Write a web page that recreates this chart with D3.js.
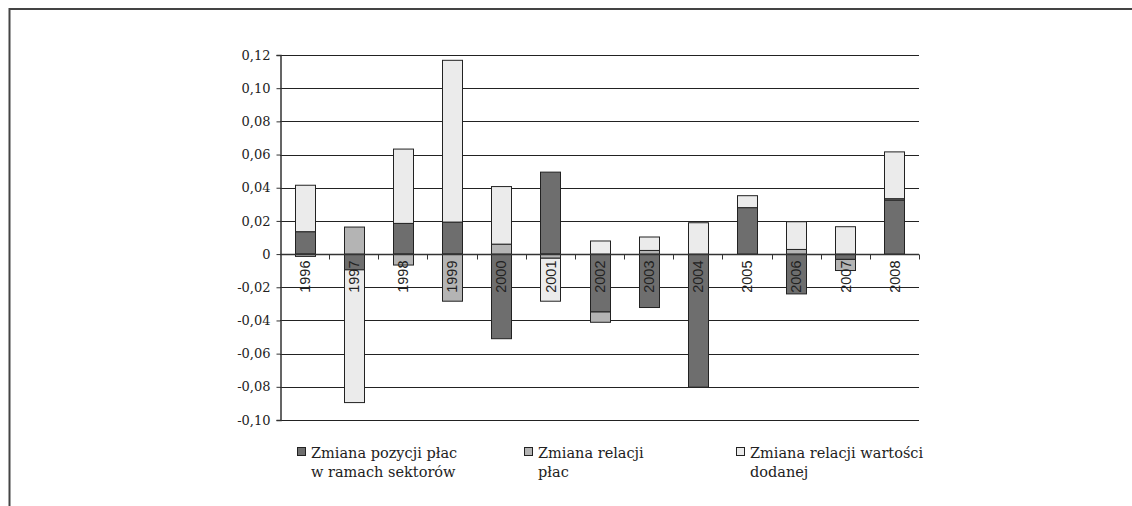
<!DOCTYPE html>
<html>
<head>
<meta charset="utf-8">
<script src="https://cdn.jsdelivr.net/npm/d3@7"></script>
<style>
  html, body { margin: 0; padding: 0; background: #fff; }
  svg { display: block; }
</style>
</head>
<body>
<svg id="chart" width="1132" height="506"></svg>
<script>
// Years on the category axis
const years = ["1996","1997","1998","1999","2000","2001","2002","2003","2004","2005","2006","2007","2008"];

// Components of the change (stacked, positives up / negatives down)
const pozycjaPlac     = [0.0135, -0.0095, 0.0185, 0.0193, -0.0510, 0.0494, -0.0349, -0.0322, -0.0802, 0.0280, -0.0240, -0.0032, 0.0326];
const relacjaPlac     = [-0.0014, 0.0163, -0.0066, -0.0284, 0.0060, -0.0025, -0.0062, 0.0022, 0.0000, 0.0000, 0.0028, -0.0067, 0.0008];
const relacjaWartosci = [0.0280, -0.0800, 0.0448, 0.0975, 0.0347, -0.0259, 0.0079, 0.0081, 0.0189, 0.0072, 0.0167, 0.0165, 0.0282];

const seriesNames = [
  ["Zmiana pozycji płac", "w ramach sektorów"],
  ["Zmiana relacji", "płac"],
  ["Zmiana relacji wartości", "dodanej"]
];
const yTicks = [-0.10, -0.08, -0.06, -0.04, -0.02, 0, 0.02, 0.04, 0.06, 0.08, 0.10, 0.12];

const colors = ["#6e6e6e", "#b4b4b4", "#ebebeb"];

const svg = d3.select("#chart");

// outer frame (top and left edges)
svg.append("path")
  .attr("d", "M9.5,506 V9 H1132")
  .attr("fill", "none")
  .attr("stroke", "#444")
  .attr("stroke-width", 2);

const plotL = 280, plotR = 919, plotT = 55, plotB = 420;

const x = d3.scaleBand().domain(years).range([plotL, plotR]).paddingInner(0).paddingOuter(0);
const y = d3.scaleLinear().domain([-0.10, 0.12]).range([plotB, plotT]);

const rows = years.map((yr, i) => ({ year: yr, s0: pozycjaPlac[i], s1: relacjaPlac[i], s2: relacjaWartosci[i] }));
const stacked = d3.stack().keys(["s0", "s1", "s2"]).offset(d3.stackOffsetDiverging)(rows);

// horizontal gridlines
svg.append("g")
  .selectAll("line")
  .data(yTicks)
  .join("line")
  .attr("x1", plotL).attr("x2", plotR)
  .attr("y1", d => Math.round(y(d)) + 0.5)
  .attr("y2", d => Math.round(y(d)) + 0.5)
  .attr("stroke", "#222")
  .attr("stroke-width", 1);

// stacked bars
const barW = 20;
svg.append("g")
  .selectAll("g")
  .data(stacked)
  .join("g")
  .attr("fill", (d, i) => colors[i])
  .selectAll("rect")
  .data(d => d.filter(p => Math.abs(p[1] - p[0]) > 1e-9))
  .join("rect")
  .attr("x", d => Math.round(x(d.data.year) + x.bandwidth() / 2 - barW / 2) + 0.5)
  .attr("width", barW)
  .attr("y", d => y(Math.max(d[0], d[1])))
  .attr("height", d => Math.abs(y(d[0]) - y(d[1])))
  .attr("stroke", "#222")
  .attr("stroke-width", 1);

// horizontal category axis at zero
const y0 = Math.round(y(0)) + 0.5;
const xAxis = svg.append("g");
xAxis.append("line")
  .attr("x1", plotL).attr("x2", plotR)
  .attr("y1", y0).attr("y2", y0)
  .attr("stroke", "#333").attr("stroke-width", 1.5);
const bounds = years.map(d => x(d)).concat([plotR]);
xAxis.selectAll("line.tick")
  .data(bounds.slice(1))
  .join("line")
  .attr("class", "tick")
  .attr("x1", d => Math.round(d) + 0.5).attr("x2", d => Math.round(d) + 0.5)
  .attr("y1", y0).attr("y2", y0 + 5)
  .attr("stroke", "#333");

// vertical value axis
const fmt = v => v === 0 ? "0" : d3.format(".2f")(v).replace(".", ",").replace("−", "-");
const yAxis = svg.append("g")
  .attr("transform", `translate(${plotL + 0.5},0)`)
  .call(d3.axisLeft(y).tickValues(yTicks).tickSize(4).tickPadding(6).tickFormat(fmt));
yAxis.select(".domain").attr("stroke", "#333").attr("stroke-width", 1.5);
yAxis.selectAll(".tick line").attr("stroke", "#333");
yAxis.selectAll(".tick text")
  .attr("font-family", "'DejaVu Serif', serif")
  .attr("font-size", 13)
  .attr("fill", "#222");

// year labels, rotated, reading upwards
svg.append("g")
  .selectAll("text")
  .data(years)
  .join("text")
  .attr("transform", d => `translate(${x(d) + x.bandwidth() / 2},${y0 + 6}) rotate(-90)`)
  .attr("text-anchor", "end")
  .attr("dy", "0.36em")
  .attr("font-family", "'Liberation Sans', Arial, sans-serif")
  .attr("font-size", 14.5)
  .attr("fill", "#222")
  .text(d => d);

// legend
const legendX = [297, 524, 736];
const legend = svg.append("g");
seriesNames.forEach((lines, i) => {
  const g = legend.append("g").attr("transform", `translate(${legendX[i]},0)`);
  g.append("rect")
    .attr("x", 0.5).attr("y", 447.5)
    .attr("width", 8).attr("height", 8)
    .attr("fill", colors[i])
    .attr("stroke", "#222");
  lines.forEach((t, j) => {
    g.append("text")
      .attr("x", 14).attr("y", 458 + j * 18.5)
      .attr("font-family", "'DejaVu Serif', serif")
      .attr("font-size", 14.5)
      .attr("fill", "#222")
      .text(t);
  });
});
</script>
</body>
</html>
